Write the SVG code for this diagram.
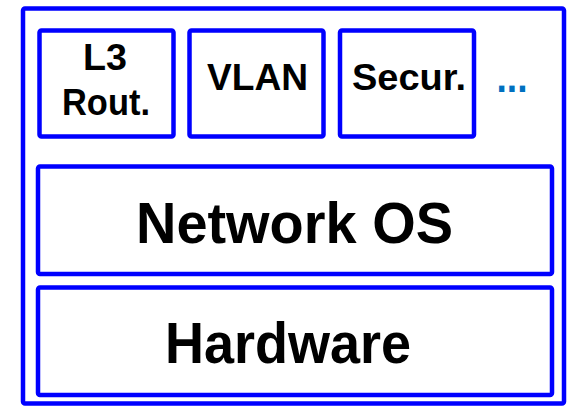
<svg xmlns="http://www.w3.org/2000/svg" width="570" height="407" viewBox="0 0 570 407">
<style>
.box{fill:#fff;stroke:#0000ff;stroke-width:4.5;stroke-linejoin:round}
.t{font-family:"Liberation Sans","DejaVu Sans",sans-serif;font-weight:bold;fill:#000}
.s{font-size:37px}
.b{font-size:58px}
</style>
<rect width="570" height="407" fill="#fff"/>
<g id="outer"><rect class="box" x="23" y="8.5" width="541" height="395" rx="2"/></g>
<g id="l3"><rect class="box" x="39.5" y="30.5" width="134" height="106" rx="2"/>
<text class="t s" x="105" y="70" text-anchor="middle" textLength="44" lengthAdjust="spacingAndGlyphs">L3</text>
<text class="t s" x="106" y="115" text-anchor="middle" textLength="88" lengthAdjust="spacingAndGlyphs">Rout.</text></g>
<g id="vlan"><rect class="box" x="189.5" y="30.5" width="134" height="106" rx="2"/>
<text class="t s" x="257.5" y="90" text-anchor="middle" textLength="101" lengthAdjust="spacingAndGlyphs">VLAN</text></g>
<g id="secur"><rect class="box" x="340" y="30.5" width="134" height="106" rx="2"/>
<text class="t s" x="409" y="90" text-anchor="middle" textLength="114" lengthAdjust="spacingAndGlyphs">Secur.</text></g>
<g id="more"><text class="t" x="512" y="92" text-anchor="middle" font-size="42" style="fill:#0070c0" textLength="31" lengthAdjust="spacingAndGlyphs">...</text></g>
<g id="netos"><rect class="box" x="38" y="166.5" width="514" height="107.5" rx="2"/>
<text class="t b" x="294.5" y="243" text-anchor="middle" textLength="317" lengthAdjust="spacingAndGlyphs">Network OS</text></g>
<g id="hw"><rect class="box" x="38" y="287.5" width="514" height="107.5" rx="2"/>
<text class="t b" x="288" y="363" text-anchor="middle" textLength="246" lengthAdjust="spacingAndGlyphs">Hardware</text></g>
<g id="connectors"></g>
</svg>
